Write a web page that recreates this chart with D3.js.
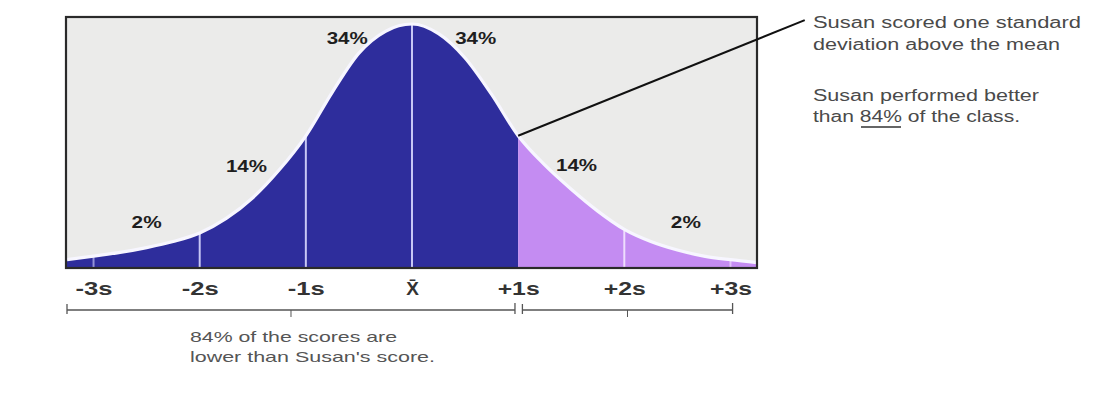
<!DOCTYPE html>
<html><head><meta charset="utf-8">
<script src="https://cdn.jsdelivr.net/npm/d3@7"></script>
<style>
html,body{margin:0;padding:0;background:#fff;}
svg{display:block;font-family:"Liberation Sans",Arial,sans-serif;}
</style></head><body>
<svg id="chart" width="1101" height="398"></svg>
<script>
// ---- data ----
const sigmaGrid  = [-3.25,-3,-2.75,-2.5,-2.25,-2,-1.75,-1.5,-1.25,-1,-0.75,-0.5,-0.25,0,0.25,0.5,0.75,1,1.25,1.5,1.75,2,2.25,2.5,2.75,3,3.25];
const densityPct = [3,4.5,6,8,10.5,14,20,28.5,40,54,72,88,97,100,96,86,71,54,42,32,23,15.5,10.5,7,4.5,3,1.8];
const boundaries = [-3,-2,-1,0,1,2,3];
const tickLabels = ["-3s","-2s","-1s","X\u0304","+1s","+2s","+3s"];
const bandLabels = ["2%","14%","34%","34%","14%","2%"];
const bandLabelSigma = [-2.5,-1.56,-0.61,0.6,1.55,2.58];
const bandLabelLevel = [18.5,41.5,94,94,42,18.5];
const susanSigma = 1;
const leaderEnd = [3.70, 101.6];
const noteLines = ["Susan scored one standard","deviation above the mean","Susan performed better","than 84% of the class."];
const bracketSpans = [[-3.25,0.97],[1.04,3.02]];
const bottomNote = ["84% of the scores are","lower than Susan's score."];

// ---- layout ----
const svg = d3.select("#chart");
const box = {x:66, y:17, w:691, h:251};
const x = d3.scaleLinear().domain([-3.25,3.25]).range([67,757]);
const y = d3.scaleLinear().domain([0,100]).range([267,24]);
const pts = sigmaGrid.map((s,i)=>({s, v:densityPct[i]}));

const defs = svg.append("defs");
defs.append("clipPath").attr("id","clipBlue").append("rect")
  .attr("x",0).attr("y",0).attr("width",x(susanSigma)).attr("height",398);
defs.append("clipPath").attr("id","clipPurple").append("rect")
  .attr("x",x(susanSigma)).attr("y",0).attr("width",1101-x(susanSigma)).attr("height",398);
defs.append("clipPath").attr("id","clipBox").append("rect")
  .attr("x",box.x).attr("y",box.y).attr("width",box.w).attr("height",box.h);

// panel
svg.append("rect").attr("x",box.x).attr("y",box.y).attr("width",box.w).attr("height",box.h)
  .attr("fill","#ebebea");

const area = d3.area().x(d=>x(d.s)).y0(y(0)).y1(d=>y(d.v)).curve(d3.curveMonotoneX);
const line = d3.line().x(d=>x(d.s)).y(d=>y(d.v)).curve(d3.curveMonotoneX);

const g = svg.append("g").attr("clip-path","url(#clipBox)");
g.append("path").datum(pts).attr("d",area).attr("fill","#2e2d9c").attr("clip-path","url(#clipBlue)");
g.append("g").attr("clip-path","url(#clipPurple)")
  .append("path").datum(pts).attr("d",area).attr("fill","#c48cf2");

// boundary lines inside the fill
g.selectAll("line.bnd").data(boundaries.filter(b=>b!==susanSigma)).join("line")
  .attr("class","bnd")
  .attr("x1",d=>x(d)).attr("x2",d=>x(d))
  .attr("y1",y(0)).attr("y2",d=>y(densityPct[sigmaGrid.indexOf(d)])+1)
  .attr("stroke",d=>d>susanSigma?"#f3e6ff":"#d8d8ff")
  .attr("stroke-width",2)
  .attr("opacity",d=>Math.abs(d)===3?0.6:0.9);

// curve glow
g.append("path").datum(pts).attr("d",line).attr("fill","none")
  .attr("stroke","#f7f6ff").attr("stroke-width",3.2);

// box border
svg.append("rect").attr("x",box.x).attr("y",box.y).attr("width",box.w).attr("height",box.h)
  .attr("fill","none").attr("stroke","#2a2a2a").attr("stroke-width",2.2);

// band labels
svg.selectAll("text.band").data(bandLabels).join("text")
  .attr("class","band")
  .attr("x",(d,i)=>x(bandLabelSigma[i])).attr("y",(d,i)=>y(bandLabelLevel[i]))
  .attr("dy","0.36em").attr("text-anchor","middle")
  .attr("font-size",16).attr("font-weight","bold").attr("fill","#1e1e1e")
  .attr("textLength",d=>d.length>2?41:30).attr("lengthAdjust","spacingAndGlyphs")
  .text(d=>d);

// leader line
svg.append("line")
  .attr("x1",x(susanSigma)).attr("y1",y(densityPct[sigmaGrid.indexOf(susanSigma)]))
  .attr("x2",x(leaderEnd[0])).attr("y2",y(leaderEnd[1]))
  .attr("stroke","#111").attr("stroke-width",2);

// axis
const axis = d3.axisBottom(x).tickValues(boundaries)
  .tickFormat((d,i)=>tickLabels[i]).tickSize(0);
const ax = svg.append("g").attr("transform",`translate(0,${y(0)})`).call(axis);
ax.select(".domain").remove();
ax.selectAll("text")
  .attr("y",28).attr("dy",null)
  .attr("font-size",19).attr("font-weight","bold").attr("font-family","'Liberation Sans',Arial,sans-serif")
  .attr("fill","#333")
  .each(function(d,i){
    const t = tickLabels[i];
    if(t.length===3){ d3.select(this).attr("textLength",t[0]==="+"?42:37).attr("lengthAdjust","spacingAndGlyphs"); }
  });

// brackets
const bg = svg.append("g").attr("stroke","#555").attr("stroke-width",1.3).attr("fill","none");
const bY = 310;
bracketSpans.forEach(([a,b])=>{
  bg.append("line").attr("x1",x(a)).attr("x2",x(b)).attr("y1",bY).attr("y2",bY);
  bg.append("line").attr("x1",x(a)).attr("x2",x(a)).attr("y1",bY-6).attr("y2",bY+4);
  bg.append("line").attr("x1",x(b)).attr("x2",x(b)).attr("y1",bY-7).attr("y2",bY+4);
  const m = (a+b)/2;
  bg.append("line").attr("x1",x(m)).attr("x2",x(m)).attr("y1",bY).attr("y2",bY+7).attr("stroke-width",1);
});

// bottom note
const bn = svg.append("g").attr("font-size",15).attr("fill","#555");
const bnWidths = [207,245];
bottomNote.forEach((t,i)=>{
  bn.append("text").attr("x",190).attr("y",342+i*20)
    .attr("textLength",bnWidths[i]).attr("lengthAdjust","spacingAndGlyphs").text(t);
});

// right note
const rn = svg.append("g").attr("font-size",16).attr("fill","#4a4a4a");
const rnY = [28,50,101,122];
const rnW = [268,247,226,207];
noteLines.forEach((t,i)=>{
  rn.append("text").attr("x",813).attr("y",rnY[i])
    .attr("textLength",rnW[i]).attr("lengthAdjust","spacingAndGlyphs").text(t);
});
rn.append("line").attr("x1",861).attr("x2",901).attr("y1",127).attr("y2",127)
  .attr("stroke","#333").attr("stroke-width",1.4);
</script>
</body></html>
